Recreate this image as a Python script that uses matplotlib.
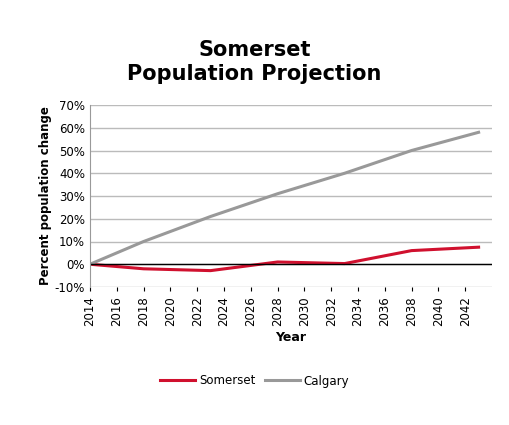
import matplotlib
matplotlib.use("Agg")
import matplotlib.pyplot as plt
from matplotlib.ticker import FuncFormatter

years = [2014, 2018, 2023, 2028, 2033, 2038, 2043]
somerset = [0, -2, -2.8, 1, 0.3, 6, 7.5]
calgary = [0, 10, 21, 31, 40, 50, 58]
xticks = list(range(2014, 2043, 2))

plt.rcParams['font.family'] = ['DejaVu Sans']
fig = plt.figure(figsize=(5.09, 4.25), dpi=100)
ax = fig.add_axes([90/509, 1-287/425, 402/509, 182/425])
ax.plot(years, somerset, color='#d0102e', lw=2.2, label='Somerset')
ax.plot(years, calgary, color='#999999', lw=2.2, label='Calgary')
ax.axhline(0, color='black', lw=1)
ax.set_xlim(2014, 2044)
ax.set_ylim(-10, 70)
ax.set_yticks(range(-10, 71, 10))
ax.yaxis.set_major_formatter(FuncFormatter(lambda v, p: f"{int(v)}%"))
ax.set_xticks(xticks)
ax.set_xticklabels([str(x) for x in xticks], rotation=90, fontsize=8.5)
ax.tick_params(axis='y', labelsize=8.5, length=0)
ax.tick_params(axis='x', length=3)
ax.grid(axis='y', color='#bbbbbb', lw=1)
ax.set_axisbelow(True)
for s in ['top', 'right']:
    ax.spines[s].set_visible(False)
ax.spines['left'].set_color('#999999')
ax.spines['bottom'].set_visible(False)
ax.set_xlabel('Year', fontsize=9, fontweight='bold')
ax.set_ylabel('Percent population change', fontsize=8.5, fontweight='bold', labelpad=2)
fig.text(0.5, 1-62/425, 'Somerset\nPopulation Projection', ha='center', va='center',
         fontsize=15, fontweight='bold', linespacing=1.3)
fig.legend(loc='center', bbox_to_anchor=(0.5, 1-381/425), ncol=2, frameon=False, fontsize=8.5,
           handlelength=3, handletextpad=0.3, columnspacing=0.8)
fig.savefig('out.png', dpi=100)
